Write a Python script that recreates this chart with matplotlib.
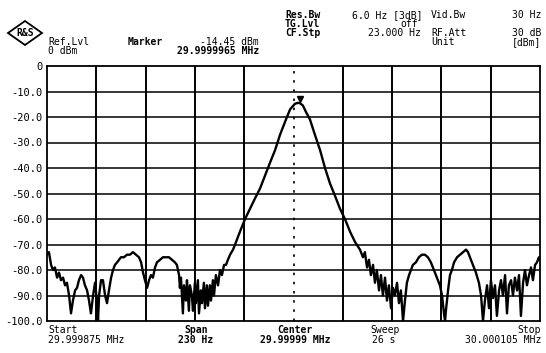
import matplotlib
matplotlib.use("Agg")
from matplotlib import pyplot as plt
from matplotlib.patches import Polygon

# trace: frequency offset from start (Hz) and level (dBm)
freq_hz = [0, 0.9, 1.9, 2.8, 3.7, 4.7, 5.6, 6.5, 7.5, 8.4, 9.3, 10.3, 11.2, 12.1,
           13.1, 14.0, 14.9, 15.9, 16.8, 17.7, 18.7, 19.6, 20.5, 21.5, 22.4, 23.3,
           23.8, 24.3, 25.2, 26.1, 27.1, 28.0, 28.9, 29.9, 30.8, 31.7, 32.7, 33.6,
           34.5, 35.9, 37.3, 38.7, 40.1, 41.5, 42.9, 43.9, 44.8, 45.7, 46.7, 47.6,
           48.5, 49.4, 50.4, 51.3, 52.7, 54.1, 55.5, 56.9, 58.3, 59.7, 60.6, 61.6,
           62.0, 62.5, 63.4, 63.9, 64.8, 65.3, 66.2, 66.7, 67.6, 68.1, 69.0, 69.5,
           70.4, 70.9, 71.8, 72.3, 73.2, 73.7, 74.6, 75.1, 76.0, 76.5, 77.4, 77.9,
           78.8, 79.8, 80.7, 81.6, 82.6, 83.5, 84.4, 85.4, 86.8, 88.2, 90.0, 92.4,
           94.7, 97.0, 99.4, 101.7, 104.0, 106.4, 108.7, 111.0, 113.4, 115.7, 117.1,
           118.0, 119.4, 120.8, 122.7, 125.0, 127.4, 129.7, 132.0, 134.4, 136.7,
           139.0, 141.4, 143.7, 146.0, 147.4, 148.3, 149.3, 150.2, 151.1, 152.1,
           153.0, 153.9, 154.9, 155.8, 156.7, 157.7, 158.6, 159.5, 160.5, 161.4,
           162.3, 163.3, 164.2, 165.1, 166.1, 167.0, 167.9, 168.9, 169.8, 170.7,
           172.1, 173.5, 174.9, 176.3, 177.7, 179.1, 180.5, 181.9, 183.3, 184.3,
           185.2, 185.7, 186.1, 187.1, 188.0, 188.9, 189.9, 191.3, 192.7, 194.1,
           195.5, 196.4, 197.3, 198.7, 200.1, 201.5, 202.5, 203.4, 204.3, 205.3,
           206.2, 207.1, 208.1, 209.0, 209.9, 210.9, 211.8, 212.7, 213.7, 214.6,
           215.5, 216.5, 217.4, 218.3, 219.3, 220.2, 221.1, 222.1, 223.0, 223.9,
           224.9, 225.8, 226.7, 227.7, 228.6, 229.5, 230.0]
level_dbm = [-74, -73, -78, -80, -79, -83, -81, -84, -83, -86, -85, -90, -97, -92,
             -88, -87, -84, -82, -83, -86, -88, -92, -97, -90, -85, -92,
             -100, -90, -84, -84, -90, -93, -88, -83, -80, -78, -77, -76,
             -75, -75, -74, -74, -73, -74, -75, -77, -81, -84, -87, -84,
             -82, -83, -79, -77, -76, -75, -75, -75, -76, -77, -78, -82,
             -87, -83, -97, -86, -92, -84, -96, -86, -90, -96, -85, -93,
             -84, -97, -88, -93, -85, -95, -86, -94, -86, -92, -84, -90,
             -82, -86, -80, -82, -78, -78, -76, -74, -72, -69, -65, -60,
             -56, -52, -48, -43, -38, -33, -27, -22, -17, -14.8, -14.45,
             -14.6, -15.5, -18, -21, -27, -33, -40, -46, -51, -56,
             -60, -65, -69, -72, -75, -73, -79, -76, -82, -78,
             -85, -80, -88, -82, -90, -83, -92, -86, -95, -87,
             -90, -85, -93, -88, -100, -92, -85, -82, -80, -78,
             -77, -75, -74, -74, -75, -77, -80, -83, -86, -90,
             -97, -100, -96, -88, -82, -80, -77, -75, -74, -73,
             -72, -73, -75, -78, -81, -85, -90, -100, -92, -86,
             -95, -84, -91, -86, -98, -88, -84, -90, -82, -97,
             -86, -84, -90, -83, -88, -82, -98, -85, -80, -86,
             -82, -79, -84, -78, -77, -75, -76]

y_ticks = [0, -10, -20, -30, -40, -50, -60, -70, -80, -90, -100]
y_labels = ["0", "-10.0", "-20.0", "-30.0", "-40.0", "-50.0", "-60.0",
            "-70.0", "-80.0", "-90.0", "-100.0"]
span_hz = 230
n_div = 10

W, H = 546, 353
fig = plt.figure(figsize=(W / 100, H / 100), dpi=100)
ax = fig.add_axes([47 / W, 1 - 321 / H, 493 / W, 255 / H])

mono = "DejaVu Sans Mono"


def txt(x, y, s, ha="left", bold=False, size=7):
    fig.text(x / W, 1 - y / H, s, ha=ha, va="center", family=mono,
             fontweight="bold" if bold else "normal", fontsize=size)


# grid
for yv in y_ticks[1:-1]:
    ax.axhline(yv, color="black", lw=1.1)
for i in range(1, n_div):
    xv = i * span_hz / n_div
    if i == n_div // 2:
        ax.axvline(xv, color="black", lw=1.2, ls=(0, (1.5, 4)))
    else:
        ax.axvline(xv, color="black", lw=1.4)

ax.plot(freq_hz, level_dbm, color="black", lw=1.7, solid_joinstyle="round")
ax.plot([118.0], [-13.0], marker="v", color="black", ms=4)

ax.set_xlim(0, span_hz)
ax.set_ylim(-100, 0)
ax.set_xticks([])
ax.set_yticks(y_ticks)
ax.set_yticklabels(y_labels, family=mono, fontsize=7.5)
ax.tick_params(axis="y", length=0, pad=3)
for sp in ax.spines.values():
    sp.set_linewidth(1.3)

# header
txt(285, 15, "Res.Bw", bold=True)
txt(352, 15, "6.0 Hz [3dB]")
txt(431, 15, "Vid.Bw")
txt(541, 15, "30 Hz", ha="right")
txt(285, 24, "TG.Lvl", bold=True)
txt(418, 24, "off", ha="right")
txt(285, 33, "CF.Stp", bold=True)
txt(421, 33, "23.000 Hz", ha="right")
txt(431, 33, "RF.Att")
txt(541, 33, "30 dB", ha="right")
txt(431, 42, "Unit")
txt(541, 42, "[dBm]", ha="right")

txt(48, 42, "Ref.Lvl")
txt(48, 51, "0 dBm")
txt(128, 42, "Marker", bold=True)
txt(259, 42, "-14.45 dBm", ha="right")
txt(259, 51, "29.9999965 MHz", ha="right", bold=True)

# logo
cx, cy, rx, ry = 25, 33, 17, 12
fig.patches.append(Polygon([((cx - rx) / W, 1 - cy / H), (cx / W, 1 - (cy - ry) / H),
                            ((cx + rx) / W, 1 - cy / H), (cx / W, 1 - (cy + ry) / H)],
                           closed=True, fill=False, lw=1.3, ec="black",
                           transform=fig.transFigure))
txt(cx, cy, "R&S", ha="center", bold=True, size=7)

# footer
txt(48, 330, "Start")
txt(48, 340, "29.999875 MHz")
txt(196, 330, "Span", ha="center", bold=True)
txt(196, 340, "230 Hz", ha="center", bold=True)
txt(295, 330, "Center", ha="center", bold=True)
txt(295, 340, "29.99999 MHz", ha="center", bold=True)
txt(370, 330, "Sweep")
txt(372, 340, "26 s")
txt(541, 330, "Stop", ha="right")
txt(541, 340, "30.000105 MHz", ha="right")

fig.savefig("out.png", dpi=100)
